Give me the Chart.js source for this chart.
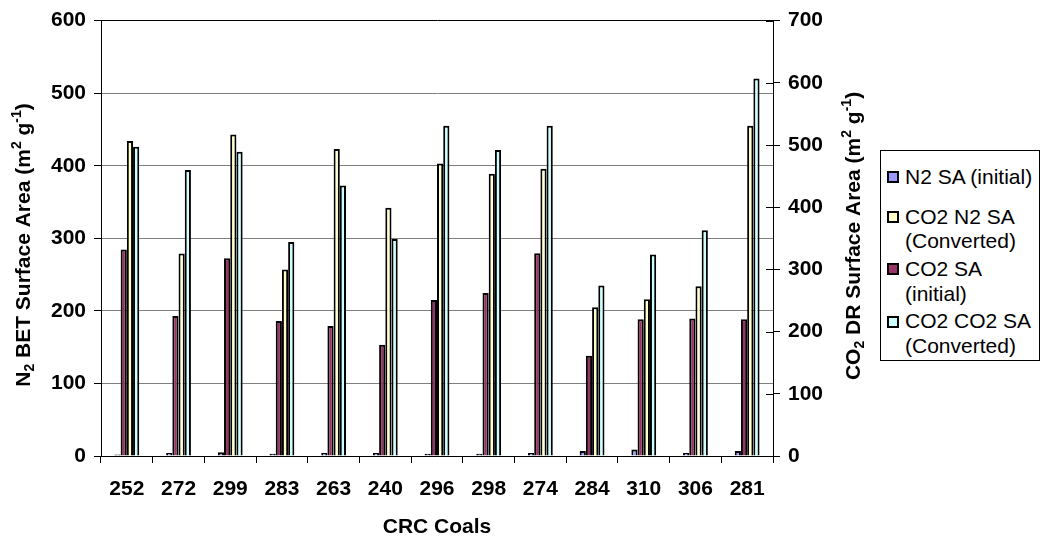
<!DOCTYPE html>
<html>
<head>
<meta charset="utf-8">
<script src="https://cdn.jsdelivr.net/npm/chart.js@4.4.1/dist/chart.umd.min.js"></script>
<style>
    body { margin: 0; background: #fff; }
    #wrap { position: relative; width: 1042px; height: 541px; }
    #legend {
        position: absolute; left: 880px; top: 150px; width: 160px; height: 211px;
        box-sizing: border-box; border: 1px solid #000; background: #fff;
        font-family: 'Liberation Sans', Arial, sans-serif; font-size: 21px; color: #000;
    }
    .item { position: relative; height: 52.25px; }
    .swatch { position: absolute; left: 6px; width: 12px; height: 12px; box-sizing: border-box; border: 2px solid #000; }
    .text { position: absolute; left: 24px; line-height: 24.5px; white-space: nowrap; }
</style>
</head>
<body>
<div id="wrap">
    <canvas id="chart" width="1042" height="541"></canvas>
    <div id="legend"></div>
</div>
<script>
const categories = ['252', '272', '299', '283', '263', '240', '296', '298', '274', '284', '310', '306', '281'];

// left axis (N2 BET)
const n2Initial = [2, 4, 5, 3, 4, 4, 3, 3, 4, 7, 9, 4, 7];
const co2N2Converted = [434, 279, 443, 257, 423, 342, 403, 389, 396, 205, 216, 234, 455];

// right axis (CO2 DR)
const co2Initial = [332, 225, 318, 217, 209, 179, 251, 262, 326, 161, 220, 221, 220];
const co2Co2Converted = [497, 460, 489, 344, 435, 349, 531, 492, 531, 274, 324, 363, 607];

const leftTicks = [0, 100, 200, 300, 400, 500, 600];
const rightTicks = [0, 100, 200, 300, 400, 500, 600, 700];

const FONT = "'Liberation Sans', Arial, sans-serif";
const tickFont = { family: FONT, size: 21, weight: 'bold' };

// legend order is not the bar order
const legendItems = [
    { lines: ['N2 SA (initial)'], color: '#9999FF' },
    { lines: ['CO2 N2 SA', '(Converted)'], color: '#FFFFCC' },
    { lines: ['CO2 SA', '(initial)'], color: '#993366' },
    { lines: ['CO2 CO2 SA', '(Converted)'], color: '#CCFFFF' }
];

function buildLegend() {
    const box = document.getElementById('legend');
    legendItems.forEach(item => {
        const row = document.createElement('div');
        row.className = 'item';
        const h = item.lines.length * 24.5;
        const textTop = (52.25 - h) / 2;
        const sw = document.createElement('div');
        sw.className = 'swatch';
        sw.style.background = item.color;
        sw.style.top = (textTop + 12.25 - 6) + 'px';
        const txt = document.createElement('div');
        txt.className = 'text';
        txt.style.top = textTop + 'px';
        txt.innerHTML = item.lines.join('<br>');
        row.appendChild(sw);
        row.appendChild(txt);
        box.appendChild(row);
    });
}

// rotated axis title with sub/superscripts, reading bottom to top
function drawRotatedTitle(ctx, cx, cy, parts) {
    const big = 'bold 21px ' + FONT;
    const small = 'bold 14px ' + FONT;
    ctx.save();
    ctx.fillStyle = '#000';
    ctx.textBaseline = 'alphabetic';
    let total = 0;
    parts.forEach(p => {
        ctx.font = p[1] === 0 ? big : small;
        total += ctx.measureText(p[0]).width;
    });
    ctx.translate(cx, cy);
    ctx.rotate(-Math.PI / 2);
    let x = -total / 2;
    parts.forEach(p => {
        ctx.font = p[1] === 0 ? big : small;
        let y = 7.5;
        if (p[1] === 1) y = -1;
        if (p[1] === -1) y = 12;
        ctx.fillText(p[0], x, y);
        x += ctx.measureText(p[0]).width;
    });
    ctx.restore();
}

const extrasPlugin = {
    id: 'extras',
    afterDraw(chart) {
        const ctx = chart.ctx;
        const y2 = chart.scales.y2;
        // right axis ticks cross the axis line
        ctx.save();
        ctx.strokeStyle = '#000';
        ctx.lineWidth = 1;
        y2.ticks.forEach(t => {
            const py = Math.round(y2.getPixelForValue(t.value)) + 0.5;
            ctx.beginPath();
            ctx.moveTo(y2.left - 7, py);
            ctx.lineTo(y2.left, py);
            ctx.stroke();
        });
        ctx.restore();

        drawRotatedTitle(ctx, 22, 245, [['N', 0], ['2', -1], [' BET Surface Area (m', 0], ['2', 1], [' g', 0], ['-1', 1], [')', 0]]);
        drawRotatedTitle(ctx, 852, 236, [['CO', 0], ['2', -1], [' DR Surface Area (m', 0], ['2', 1], [' g', 0], ['-1', 1], [')', 0]]);
    }
};

function makeChart() {
    const ctx = document.getElementById('chart').getContext('2d');
    const bar = (label, data, color, axis) => ({
        label: label,
        data: data,
        yAxisID: axis,
        backgroundColor: color,
        borderColor: '#000',
        borderWidth: 2,
        categoryPercentage: 0.48,
        barPercentage: 1.0
    });

    new Chart(ctx, {
        type: 'bar',
        data: {
            labels: categories,
            datasets: [
                bar('N2 SA (initial)', n2Initial, '#9999FF', 'y'),
                bar('CO2 SA (initial)', co2Initial, '#993366', 'y2'),
                bar('CO2 N2 SA (Converted)', co2N2Converted, '#FFFFCC', 'y'),
                bar('CO2 CO2 SA (Converted)', co2Co2Converted, '#CCFFFF', 'y2')
            ]
        },
        options: {
            responsive: false,
            animation: false,
            layout: { padding: { left: 0, right: 169, top: 18, bottom: 0 } },
            plugins: {
                legend: { display: false },
                tooltip: { enabled: false }
            },
            scales: {
                x: {
                    offset: true,
                    grid: { offset: true, drawOnChartArea: false, color: '#000', tickColor: '#000', tickLength: 7 },
                    border: { color: '#000' },
                    ticks: { font: tickFont, color: '#000', padding: 14, maxRotation: 0, autoSkip: false },
                    title: { display: true, text: 'CRC Coals', font: tickFont, color: '#000', padding: { top: 0, bottom: 1 } },
                    afterFit: s => { s.height = 85; }
                },
                y: {
                    position: 'left',
                    min: leftTicks[0],
                    max: leftTicks[leftTicks.length - 1],
                    afterBuildTicks: s => { s.ticks = leftTicks.map(v => ({ value: v })); },
                    ticks: { font: tickFont, color: '#000', padding: 8 },
                    grid: {
                        color: c => (c.tick && (c.tick.value === 600 || c.tick.value === 0)) ? '#000' : '#808080',
                        tickColor: '#000',
                        tickLength: 7
                    },
                    border: { color: '#000' },
                    afterFit: s => { s.width = 101; }
                },
                y2: {
                    position: 'right',
                    min: rightTicks[0],
                    max: rightTicks[rightTicks.length - 1],
                    afterBuildTicks: s => { s.ticks = rightTicks.map(v => ({ value: v })); },
                    ticks: { font: tickFont, color: '#000', padding: 8 },
                    grid: { drawOnChartArea: false, color: '#000', tickColor: '#000', tickLength: 7 },
                    border: { color: '#000' },
                    afterFit: s => { s.width = 100; }
                }
            }
        },
        plugins: [extrasPlugin]
    });
}

buildLegend();
makeChart();
</script>
</body>
</html>
